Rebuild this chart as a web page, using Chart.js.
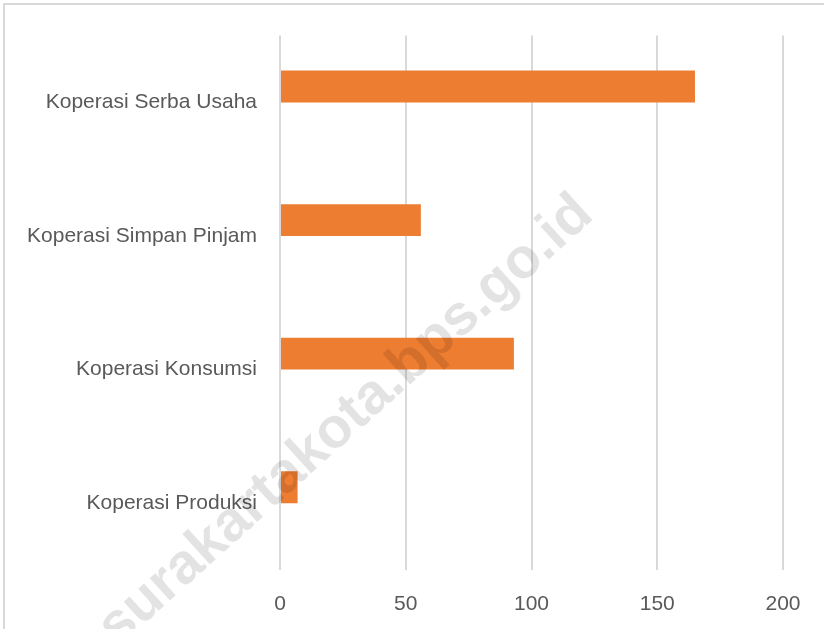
<!DOCTYPE html>
<html>
<head>
<meta charset="utf-8">
<script src="https://cdn.jsdelivr.net/npm/chart.js@4/dist/chart.umd.min.js"></script>
<style>
  html, body { margin: 0; padding: 0; background: #fff; }
  #wrap { width: 824px; height: 629px; position: relative; }
</style>
</head>
<body>
<div id="wrap"><canvas id="kopChart" width="824" height="629"></canvas></div>
<script>
// data
var categories = ['Koperasi Serba Usaha', 'Koperasi Simpan Pinjam', 'Koperasi Konsumsi', 'Koperasi Produksi'];
var jumlahKoperasi = [165, 56, 93, 7];
var emptySeries = [null, null, null, null]; // second (empty) series in the original, keeps the bar offset
var xTicks = [0, 50, 100, 150, 200];

var FONT = '"Liberation Sans", Arial, sans-serif';
var TEXT_GREY = '#595959';
var GRID_GREY = '#d9d9d9';

// outer frame and the diagonal watermark
var decorations = {
    id: 'decorations',
    beforeDraw: function (chart) {
        var c = chart.ctx;
        c.save();
        c.fillStyle = '#fff';
        c.fillRect(0, 0, chart.width, chart.height);
        c.strokeStyle = GRID_GREY;
        c.lineWidth = 2;
        c.strokeRect(4, 4, chart.width + 20, chart.height + 20);
        c.restore();
    },
    afterDraw: function (chart) {
        var c = chart.ctx;
        c.save();
        c.translate(346, 421);
        c.rotate(-42 * Math.PI / 180);
        c.font = 'bold 57px ' + FONT;
        c.fillStyle = 'rgba(0,0,0,0.11)';
        c.textAlign = 'center';
        c.textBaseline = 'middle';
        c.fillText('surakartakota.bps.go.id', 0, 0);
        c.restore();
    }
};

var ctx = document.getElementById('kopChart').getContext('2d');

var myChart = new Chart(ctx, {
    type: 'bar',
    data: {
        labels: categories,
        datasets: [{
            label: 'Jumlah',
            data: jumlahKoperasi,
            backgroundColor: '#ED7D31',
            borderWidth: 0,
            barPercentage: 1,
            categoryPercentage: 0.477
        }, {
            label: '',
            data: emptySeries,
            backgroundColor: '#A5A5A5',
            borderWidth: 0,
            barPercentage: 1,
            categoryPercentage: 0.477
        }]
    },
    options: {
        indexAxis: 'y',
        responsive: false,
        animation: false,
        layout: {
            padding: { left: 4, right: 41, top: 33, bottom: 0 }
        },
        scales: {
            x: {
                min: 0,
                max: 200,
                afterBuildTicks: function (scale) {
                    scale.ticks = xTicks.map(function (v) { return { value: v }; });
                },
                afterFit: function (scale) { scale.height = 59; },
                grid: {
                    color: GRID_GREY,
                    lineWidth: 2,
                    drawTicks: false
                },
                border: { display: false },
                ticks: {
                    color: TEXT_GREY,
                    font: { family: FONT, size: 21 },
                    padding: 22
                }
            },
            y: {
                afterFit: function (scale) { scale.width = 276; },
                grid: { display: false, drawTicks: false },
                border: { display: false },
                ticks: {
                    color: TEXT_GREY,
                    font: { family: FONT, size: 21 },
                    padding: 23
                }
            }
        },
        plugins: {
            legend: { display: false },
            tooltip: { enabled: false }
        }
    },
    plugins: [decorations]
});
</script>
</body>
</html>
